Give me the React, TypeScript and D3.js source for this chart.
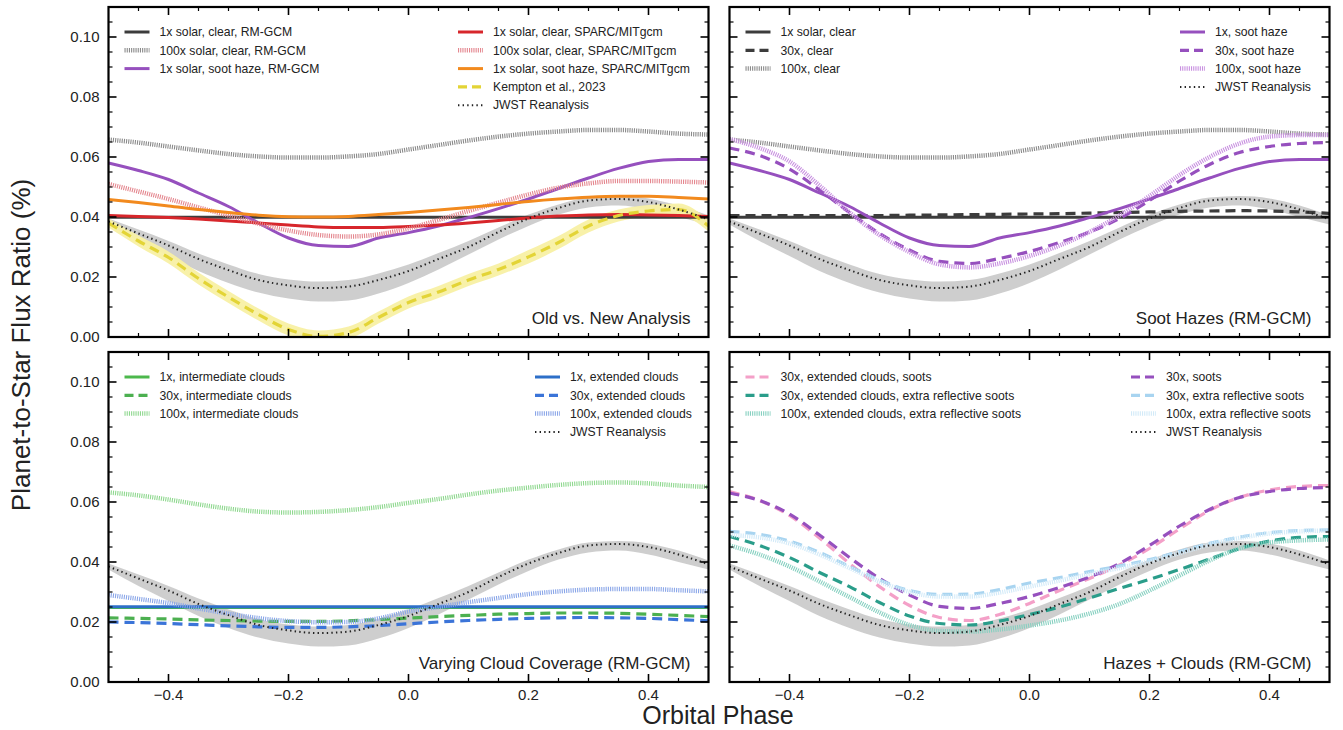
import React from "react";
import * as d3 from "d3";

// orbital phase grid the curves were read at
const PHASE = [-0.5, -0.45, -0.4, -0.35, -0.3, -0.25, -0.2, -0.15, -0.1, -0.05, 0, 0.05, 0.1, 0.15, 0.2, 0.25, 0.3, 0.35, 0.4, 0.45, 0.5];

// JWST reanalysis (dotted) and its 1-sigma envelope
const JWST = [0.0385, 0.0345, 0.0305, 0.026, 0.0223, 0.019, 0.0172, 0.0163, 0.0168, 0.019, 0.022, 0.026, 0.03, 0.035, 0.0395, 0.043, 0.0455, 0.046, 0.045, 0.0425, 0.0392];
const JWST_LO = [0.0375, 0.032, 0.027, 0.022, 0.018, 0.0148, 0.0128, 0.0118, 0.0122, 0.0145, 0.018, 0.0225, 0.0275, 0.0325, 0.037, 0.0408, 0.0432, 0.0438, 0.0425, 0.04, 0.0375];
const JWST_HI = [0.0395, 0.0358, 0.032, 0.0278, 0.0242, 0.021, 0.0192, 0.0185, 0.019, 0.0212, 0.0242, 0.028, 0.032, 0.0365, 0.0408, 0.0442, 0.0465, 0.047, 0.0462, 0.0438, 0.0405];

// Kempton et al. 2023
const KEMPTON = [0.038, 0.032, 0.0265, 0.0195, 0.0133, 0.0075, 0.0025, 0.0002, 0.0015, 0.0065, 0.0115, 0.015, 0.019, 0.0225, 0.0267, 0.0315, 0.037, 0.0405, 0.042, 0.0425, 0.037];
const KEMPTON_LO = [0.0365, 0.0302, 0.0245, 0.0175, 0.0113, 0.0055, 0.0005, -0.0015, -0.0005, 0.0045, 0.0095, 0.013, 0.017, 0.0205, 0.0245, 0.0293, 0.0348, 0.0385, 0.0402, 0.0405, 0.0352];
const KEMPTON_HI = [0.0395, 0.0338, 0.0285, 0.0215, 0.0153, 0.0095, 0.0045, 0.0022, 0.0035, 0.0085, 0.0135, 0.017, 0.021, 0.0245, 0.029, 0.0337, 0.0392, 0.0425, 0.044, 0.0445, 0.039];

// RM-GCM
const RM_1X_CLEAR = [0.0399, 0.0399, 0.0399, 0.0399, 0.0399, 0.0399, 0.0399, 0.0399, 0.0399, 0.0399, 0.0399, 0.0399, 0.0399, 0.0399, 0.0399, 0.0399, 0.0399, 0.0399, 0.0399, 0.0399, 0.0399];
const RM_30X_CLEAR = [0.0405, 0.0405, 0.0405, 0.0405, 0.0405, 0.0405, 0.0406, 0.0407, 0.0408, 0.0409, 0.041, 0.0411, 0.0413, 0.0415, 0.0417, 0.0419, 0.042, 0.0421, 0.042, 0.0417, 0.0412];
const RM_100X_CLEAR = [0.0658, 0.0648, 0.0635, 0.0622, 0.061, 0.0602, 0.0598, 0.0598, 0.0602, 0.061, 0.0625, 0.064, 0.0655, 0.0668, 0.0678, 0.0685, 0.069, 0.069, 0.0685, 0.0678, 0.0675];
const RM_1X_SOOT = [0.058, 0.0555, 0.0525, 0.048, 0.0435, 0.038, 0.033, 0.0305, 0.0302, 0.033, 0.0348, 0.037, 0.0398, 0.0428, 0.046, 0.0495, 0.053, 0.0562, 0.0585, 0.0592, 0.0592];
const RM_30X_SOOT = [0.063, 0.0605, 0.056, 0.049, 0.0415, 0.0345, 0.029, 0.0252, 0.0245, 0.0262, 0.0285, 0.0315, 0.035, 0.0395, 0.0455, 0.052, 0.0575, 0.0615, 0.0635, 0.0645, 0.0648];
const RM_100X_SOOT = [0.066, 0.063, 0.0585, 0.0505, 0.0415, 0.034, 0.0283, 0.0242, 0.0232, 0.0245, 0.027, 0.0305, 0.035, 0.0405, 0.047, 0.054, 0.06, 0.0645, 0.0668, 0.0673, 0.0673];

// SPARC/MITgcm
const SP_1X_CLEAR = [0.0405, 0.0402, 0.0398, 0.0393, 0.0387, 0.038, 0.0373, 0.0367, 0.0365, 0.0365, 0.0368, 0.0373, 0.038, 0.0388, 0.0397, 0.0403, 0.0407, 0.0408, 0.0407, 0.0405, 0.0402];
const SP_100X_CLEAR = [0.051, 0.0485, 0.046, 0.0432, 0.0405, 0.0378, 0.0355, 0.034, 0.0335, 0.0342, 0.0362, 0.039, 0.042, 0.0448, 0.0475, 0.0498, 0.0512, 0.052, 0.052, 0.0518, 0.0515];
const SP_1X_SOOT = [0.0458, 0.0448, 0.0437, 0.0425, 0.0415, 0.0406, 0.0401, 0.04, 0.0402, 0.0408, 0.0415, 0.0423, 0.0432, 0.0442, 0.0452, 0.046, 0.0466, 0.0469, 0.0469, 0.0465, 0.046];

// clouds
const INT_1X = [0.0248, 0.0248, 0.0248, 0.0248, 0.0248, 0.0248, 0.0248, 0.0248, 0.0248, 0.0248, 0.0248, 0.0248, 0.0248, 0.0248, 0.0248, 0.0248, 0.0248, 0.0248, 0.0248, 0.0248, 0.0248];
const INT_30X = [0.0214, 0.0212, 0.021, 0.0207, 0.0205, 0.0203, 0.0202, 0.0202, 0.0204, 0.0208, 0.0213, 0.0218, 0.0222, 0.0226, 0.0228, 0.023, 0.023, 0.0229, 0.0226, 0.0222, 0.0218];
const INT_100X = [0.0632, 0.0622, 0.0608, 0.0592, 0.0578, 0.0568, 0.0565, 0.0567, 0.0573, 0.0583, 0.0597, 0.061, 0.0625, 0.0638, 0.0648, 0.0657, 0.0663, 0.0665, 0.0662, 0.0655, 0.065];
const EXT_1X = [0.0251, 0.0251, 0.0251, 0.0251, 0.0251, 0.0251, 0.0251, 0.0251, 0.0251, 0.0251, 0.0251, 0.0251, 0.0251, 0.0251, 0.0251, 0.0251, 0.0251, 0.0251, 0.0251, 0.0251, 0.0251];
const EXT_30X = [0.02, 0.0198, 0.0195, 0.0191, 0.0187, 0.0184, 0.0182, 0.0182, 0.0184, 0.0188, 0.0194, 0.02, 0.0205, 0.0209, 0.0212, 0.0214, 0.0215, 0.0214, 0.0212, 0.0208, 0.0204];
const EXT_100X = [0.029, 0.0277, 0.0263, 0.0245, 0.0228, 0.0213, 0.0203, 0.0199, 0.02, 0.0212, 0.0235, 0.025, 0.0266, 0.028, 0.0293, 0.0302, 0.0308, 0.031, 0.031, 0.0306, 0.0302];

// hazes + clouds
const EXT_SOOT_30X = [0.0635, 0.0605, 0.0555, 0.048, 0.0395, 0.0318, 0.0255, 0.0215, 0.0205, 0.0225, 0.0262, 0.0305, 0.0345, 0.039, 0.0445, 0.051, 0.0572, 0.0615, 0.064, 0.0652, 0.0655];
const EXT_XREF_30X = [0.0485, 0.0455, 0.0415, 0.0365, 0.0318, 0.0265, 0.022, 0.0195, 0.019, 0.0203, 0.0225, 0.025, 0.028, 0.0312, 0.0342, 0.0375, 0.041, 0.0445, 0.047, 0.0482, 0.0485];
const EXT_XREF_100X = [0.0455, 0.0425, 0.0385, 0.0335, 0.0283, 0.0232, 0.019, 0.017, 0.0168, 0.0175, 0.0188, 0.0205, 0.0228, 0.026, 0.0305, 0.0355, 0.0405, 0.0445, 0.0465, 0.0472, 0.0475];
const XREF_30X = [0.0502, 0.0492, 0.047, 0.0432, 0.0385, 0.034, 0.0305, 0.0292, 0.0293, 0.0308, 0.033, 0.0348, 0.0368, 0.0387, 0.0408, 0.0435, 0.0462, 0.0483, 0.0498, 0.0505, 0.0507];
const XREF_100X = [0.049, 0.0482, 0.0462, 0.0425, 0.038, 0.0335, 0.03, 0.0285, 0.0285, 0.0298, 0.0318, 0.0338, 0.036, 0.038, 0.0402, 0.043, 0.0458, 0.048, 0.0495, 0.0502, 0.0505];

const PANEL_TITLES = ["Old vs. New Analysis", "Soot Hazes (RM-GCM)", "Varying Cloud Coverage (RM-GCM)", "Hazes + Clouds (RM-GCM)"];

type Kind = "solid" | "dashed" | "hatch" | "dotted";
type Line = { label: string; values: number[]; color: string; kind: Kind };

const jwstLine: Line = { label: "JWST Reanalysis", values: JWST, color: "#222", kind: "dotted" };

const panels: { left: Line[]; right: Line[]; bands: { lo: number[]; hi: number[]; fill: string }[] }[] = [
  {
    left: [
      { label: "1x solar, clear, RM-GCM", values: RM_1X_CLEAR, color: "#3c3c3c", kind: "solid" },
      { label: "100x solar, clear, RM-GCM", values: RM_100X_CLEAR, color: "#8a8a8a", kind: "hatch" },
      { label: "1x solar, soot haze, RM-GCM", values: RM_1X_SOOT, color: "#9650be", kind: "solid" },
    ],
    right: [
      { label: "1x solar, clear, SPARC/MITgcm", values: SP_1X_CLEAR, color: "#d7262b", kind: "solid" },
      { label: "100x solar, clear, SPARC/MITgcm", values: SP_100X_CLEAR, color: "#e4878f", kind: "hatch" },
      { label: "1x solar, soot haze, SPARC/MITgcm", values: SP_1X_SOOT, color: "#f28a1e", kind: "solid" },
      { label: "Kempton et al., 2023", values: KEMPTON, color: "#e3d436", kind: "dashed" },
      jwstLine,
    ],
    bands: [
      { lo: JWST_LO, hi: JWST_HI, fill: "#cbcbcb" },
      { lo: KEMPTON_LO, hi: KEMPTON_HI, fill: "#f8f0a4" },
    ],
  },
  {
    left: [
      { label: "1x solar, clear", values: RM_1X_CLEAR, color: "#3c3c3c", kind: "solid" },
      { label: "30x, clear", values: RM_30X_CLEAR, color: "#3c3c3c", kind: "dashed" },
      { label: "100x, clear", values: RM_100X_CLEAR, color: "#8a8a8a", kind: "hatch" },
    ],
    right: [
      { label: "1x, soot haze", values: RM_1X_SOOT, color: "#9650be", kind: "solid" },
      { label: "30x, soot haze", values: RM_30X_SOOT, color: "#9650be", kind: "dashed" },
      { label: "100x, soot haze", values: RM_100X_SOOT, color: "#c890e0", kind: "hatch" },
      jwstLine,
    ],
    bands: [{ lo: JWST_LO, hi: JWST_HI, fill: "#cbcbcb" }],
  },
  {
    left: [
      { label: "1x, intermediate clouds", values: INT_1X, color: "#4cb84c", kind: "solid" },
      { label: "30x, intermediate clouds", values: INT_30X, color: "#4cb050", kind: "dashed" },
      { label: "100x, intermediate clouds", values: INT_100X, color: "#8fd88f", kind: "hatch" },
    ],
    right: [
      { label: "1x, extended clouds", values: EXT_1X, color: "#2d6fc8", kind: "solid" },
      { label: "30x, extended clouds", values: EXT_30X, color: "#3b74d8", kind: "dashed" },
      { label: "100x, extended clouds", values: EXT_100X, color: "#8aa6e8", kind: "hatch" },
      jwstLine,
    ],
    bands: [{ lo: JWST_LO, hi: JWST_HI, fill: "#cbcbcb" }],
  },
  {
    left: [
      { label: "30x, extended clouds, soots", values: EXT_SOOT_30X, color: "#f4a0c8", kind: "dashed" },
      { label: "30x, extended clouds, extra reflective soots", values: EXT_XREF_30X, color: "#2a9d8a", kind: "dashed" },
      { label: "100x, extended clouds, extra reflective soots", values: EXT_XREF_100X, color: "#86d0c0", kind: "hatch" },
    ],
    right: [
      { label: "30x, soots", values: RM_30X_SOOT, color: "#9650be", kind: "dashed" },
      { label: "30x, extra reflective soots", values: XREF_30X, color: "#a8d4f0", kind: "dashed" },
      { label: "100x, extra reflective soots", values: XREF_100X, color: "#d2eaf8", kind: "hatch" },
      jwstLine,
    ],
    bands: [{ lo: JWST_LO, hi: JWST_HI, fill: "#cbcbcb" }],
  },
];

const boxes = [
  { x0: 108.5, x1: 708.5, y0: 7, y1: 337 },
  { x0: 729.5, x1: 1329.5, y0: 7, y1: 337 },
  { x0: 108.5, x1: 708.5, y0: 352, y1: 682 },
  { x0: 729.5, x1: 1329.5, y0: 352, y1: 682 },
];
const rightLegendX = [458, 1180, 535, 1131];

const FONT = "'Liberation Sans', Arial, Helvetica, sans-serif";

const strokeProps = (l: Line) => {
  if (l.kind === "dotted") return { stroke: l.color, strokeWidth: 2, strokeDasharray: "1.4 3.2" };
  if (l.kind === "dashed") return { stroke: l.color, strokeWidth: 3.2, strokeDasharray: "10 6" };
  if (l.kind === "hatch") return { stroke: l.color, strokeWidth: 4.5, strokeDasharray: "1.1 1.1" };
  return { stroke: l.color, strokeWidth: 3 };
};

const Panel = ({ idx }: { idx: number }) => {
  const b = boxes[idx];
  const p = panels[idx];
  const x = d3.scaleLinear().domain([-0.5, 0.5]).range([b.x0, b.x1]);
  const y = d3.scaleLinear().domain([0, 0.11]).range([b.y1, b.y0]);
  const line = d3
    .line<number>()
    .x((_, i) => x(PHASE[i]))
    .y((v) => y(v))
    .curve(d3.curveMonotoneX);
  const area = (lo: number[], hi: number[]) =>
    d3
      .area<number>()
      .x((_, i) => x(PHASE[i]))
      .y0((_, i) => y(lo[i]))
      .y1((_, i) => y(hi[i]))
      .curve(d3.curveMonotoneX)(PHASE);

  const xMajor = [-0.4, -0.2, 0, 0.2, 0.4];
  const xMinor = d3.range(-0.45, 0.46, 0.05).filter((t) => !xMajor.some((m) => Math.abs(m - t) < 1e-6));
  const yMajor = [0, 0.02, 0.04, 0.06, 0.08, 0.1];
  const yMinor = d3.range(0.005, 0.11, 0.005).filter((t) => !yMajor.some((m) => Math.abs(m - t) < 1e-6));
  const showY = idx % 2 === 0;
  const showX = idx >= 2;
  const models = [...p.left, ...p.right].filter((l) => l !== jwstLine);
  const clipId = `clip${idx}`;

  const legendCol = (items: Line[], lx: number, ly: number) =>
    items.map((l, i) => (
      <g key={l.label} transform={`translate(${lx},${ly + i * 18.3})`}>
        <line x1={0} x2={25} y1={0} y2={0} {...strokeProps(l)} strokeDasharray={l.kind === "dashed" ? "9 5" : strokeProps(l).strokeDasharray} />
        <text x={35} y={0} dy="0.35em" fontSize={12.2} fill="#222" fontFamily={FONT}>
          {l.label}
        </text>
      </g>
    ));

  return (
    <g>
      <defs>
        <clipPath id={clipId}>
          <rect x={b.x0} y={b.y0} width={b.x1 - b.x0} height={b.y1 - b.y0} />
        </clipPath>
      </defs>
      <g clipPath={`url(#${clipId})`}>
        {p.bands.map((bd, i) => (
          <path key={i} d={area(bd.lo, bd.hi) || ""} fill={bd.fill} opacity={0.95} />
        ))}
        {models.map((l) => (
          <path key={l.label} d={line(l.values) || ""} fill="none" {...strokeProps(l)} strokeLinecap="butt" />
        ))}
        <path d={line(JWST) || ""} fill="none" {...strokeProps(jwstLine)} />
      </g>
      {xMajor.map((t) => (
        <g key={`xM${t}`}>
          <line x1={x(t)} x2={x(t)} y1={b.y1} y2={b.y1 - 8} stroke="#000" strokeWidth={1.6} />
          <line x1={x(t)} x2={x(t)} y1={b.y0} y2={b.y0 + 8} stroke="#000" strokeWidth={1.6} />
        </g>
      ))}
      {xMinor.map((t) => (
        <g key={`xm${t}`}>
          <line x1={x(t)} x2={x(t)} y1={b.y1} y2={b.y1 - 4} stroke="#000" strokeWidth={1.2} />
          <line x1={x(t)} x2={x(t)} y1={b.y0} y2={b.y0 + 4} stroke="#000" strokeWidth={1.2} />
        </g>
      ))}
      {yMajor.map((t) => (
        <g key={`yM${t}`}>
          <line x1={b.x0} x2={b.x0 + 8} y1={y(t)} y2={y(t)} stroke="#000" strokeWidth={1.6} />
          <line x1={b.x1} x2={b.x1 - 8} y1={y(t)} y2={y(t)} stroke="#000" strokeWidth={1.6} />
        </g>
      ))}
      {yMinor.map((t) => (
        <g key={`ym${t}`}>
          <line x1={b.x0} x2={b.x0 + 4} y1={y(t)} y2={y(t)} stroke="#000" strokeWidth={1.2} />
          <line x1={b.x1} x2={b.x1 - 4} y1={y(t)} y2={y(t)} stroke="#000" strokeWidth={1.2} />
        </g>
      ))}
      <rect x={b.x0} y={b.y0} width={b.x1 - b.x0} height={b.y1 - b.y0} fill="none" stroke="#000" strokeWidth={2.2} />
      {showY &&
        yMajor.map((t) => (
          <text key={`yl${t}`} x={b.x0 - 9} y={y(t)} dy="0.35em" textAnchor="end" fontSize={15} fontFamily={FONT} fill="#222">
            {d3.format(".2f")(t)}
          </text>
        ))}
      {showX &&
        xMajor.map((t) => (
          <text key={`xl${t}`} x={x(t)} y={b.y1 + 18} textAnchor="middle" fontSize={15} fontFamily={FONT} fill="#222">
            {d3.format(".1f")(t)}
          </text>
        ))}
      {legendCol(p.left, b.x0 + 16, b.y0 + 25)}
      {legendCol(p.right, rightLegendX[idx], b.y0 + 25)}
      <text x={b.x1 - 18} y={b.y1 - 13} textAnchor="end" fontSize={17} fontFamily={FONT} fill="#222">
        {PANEL_TITLES[idx]}
      </text>
    </g>
  );
};

export default function App() {
  return (
    <svg width={1343} height={730} style={{ display: "block", position: "absolute", left: 0, top: 0, background: "#fff" }}>
      {[0, 1, 2, 3].map((i) => (
        <Panel key={i} idx={i} />
      ))}
      <text transform="translate(30,345) rotate(-90)" textAnchor="middle" fontSize={26} fontFamily={FONT} fill="#222">
        Planet-to-Star Flux Ratio (%)
      </text>
      <text x={718} y={724} textAnchor="middle" fontSize={25} fontFamily={FONT} fill="#222">
        Orbital Phase
      </text>
    </svg>
  );
}
